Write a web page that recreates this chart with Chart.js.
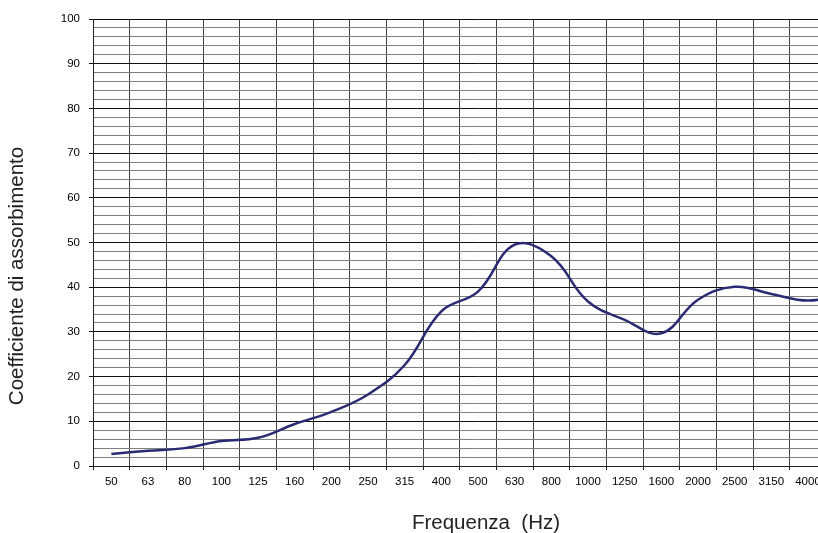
<!DOCTYPE html>
<html>
<head>
<meta charset="utf-8">
<script src="https://cdn.jsdelivr.net/npm/chart.js@4/dist/chart.umd.min.js"></script>
<style>
  body { margin: 0; overflow: hidden; background: #fff; }
  canvas { display: block; }
</style>
</head>
<body>
<canvas id="absChart" width="880" height="533"></canvas>
<script>
// frequency bands (Hz) - the last one is cut off at the right edge
const frequencies = ['50', '63', '80', '100', '125', '160', '200', '250', '315', '400', '500',
  '630', '800', '1000', '1250', '1600', '2000', '2500', '3150', '4000', '5000'];
const absorption = [2.7, 3.4, 4.0, 5.6, 6.3, 9.4, 12.1, 16.0, 22.6, 34.6, 39.0,
  49.5, 46.9, 36.8, 32.7, 29.7, 37.2, 40.1, 38.5, 37.0, 38.5];
const yTickLabels = [0, 10, 20, 30, 40, 50, 60, 70, 80, 90, 100];
const xTitle = 'Frequenza  (Hz)';
const yTitle = 'Coefficiente di assorbimento';

const fontFamily = "'Liberation Sans', Arial, sans-serif";
const font = { family: fontFamily, size: 11.5 };

// axis titles drawn by hand so they sit where the original has them
const axisTitles = {
  id: 'axisTitles',
  afterDraw(chart) {
    const c = chart.ctx;
    c.save();
    c.fillStyle = '#222';
    c.font = '20.5px ' + fontFamily;
    c.textAlign = 'center';
    c.textBaseline = 'alphabetic';
    c.fillText(xTitle, 486, 529);
    c.translate(23, 276);
    c.rotate(-Math.PI / 2);
    c.fillText(yTitle, 0, 0);
    c.restore();
  }
};

const ctx = document.getElementById('absChart').getContext('2d');
const chart = new Chart(ctx, {
  type: 'line',
  data: {
    labels: frequencies,
    datasets: [{
      label: yTitle,
      data: absorption,
      borderColor: '#2b2b73',
      borderWidth: 2.5,
      pointRadius: 0,
      tension: 0.4,
      fill: false
    }]
  },
  options: {
    responsive: false,
    animation: false,
    layout: { padding: { left: 0, right: 17, top: 19, bottom: 0 } },
    plugins: {
      legend: { display: false },
      tooltip: { enabled: false }
    },
    scales: {
      x: {
        offset: true,
        grid: {
          offset: true,
          color: '#444',
          lineWidth: 1,
          tickLength: 4,
          tickColor: '#222'
        },
        border: { color: '#222' },
        ticks: { color: '#000', font: font, padding: 5, maxRotation: 0, autoSkip: false },
        afterFit: function(scale) { scale.height = 67; }
      },
      y: {
        min: 0,
        max: 100,
        ticks: {
          stepSize: 2,
          color: '#000',
          font: font,
          padding: 9,
          autoSkip: false,
          callback: function(v) {
            return yTickLabels.includes(v) ? String(v) : '';
          }
        },
        grid: {
          color: c => (c.tick && c.tick.value % 10 === 0) ? '#111' : '#808080',
          tickColor: c => (c.tick && c.tick.value % 10 === 0) ? '#111' : 'rgba(0,0,0,0)',
          tickLength: 4,
          lineWidth: 1
        },
        border: { color: '#222' },
        afterFit: function(scale) { scale.width = 93; }
      }
    }
  },
  plugins: [axisTitles]
});
</script>
</body>
</html>
